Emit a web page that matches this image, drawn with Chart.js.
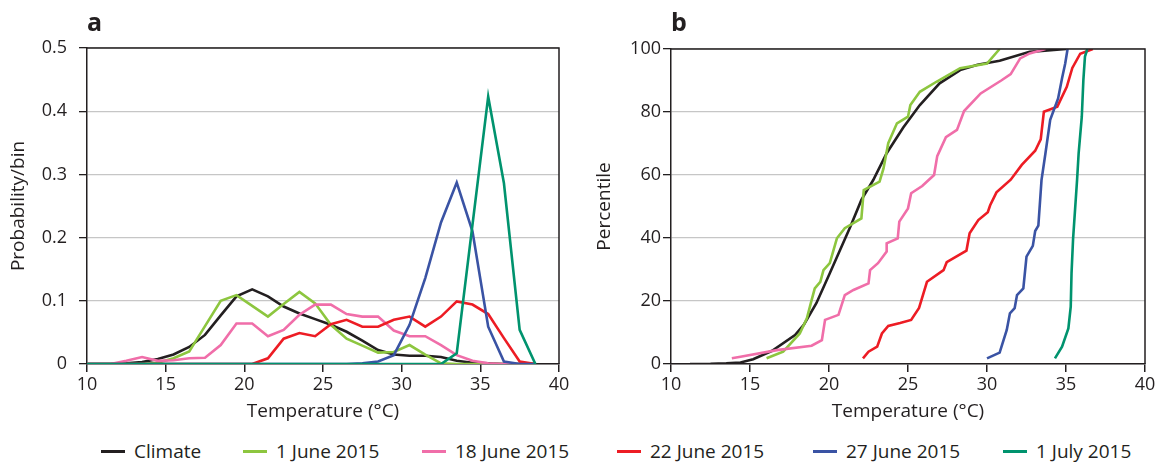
<!DOCTYPE html>
<html>
<head>
<meta charset="utf-8">
<script src="https://cdn.jsdelivr.net/npm/chart.js@4"></script>
<style>
  body { margin: 0; background: #fff; font-family: "Open Sans", sans-serif; color: #231f20; }
  #wrap { position: relative; width: 1162px; height: 466px; overflow: hidden; }
  .panel { position: absolute; top: 0; height: 430px; }
  .tag { position: absolute; top: 4px; font-weight: bold; font-size: 25px; }
  #legend { position: absolute; top: 437px; left: 0; width: 1162px; height: 28px; font-size: 19px; }
  .item { position: absolute; top: 0; white-space: nowrap; line-height: 28px; }
  .item i { display: inline-block; width: 24px; height: 3px; vertical-align: middle; margin-right: 9px; position: relative; top: -1px; }
</style>
</head>
<body>
<div id="wrap">
  <div class="panel" style="left:0;width:580px"><canvas id="chartA"></canvas></div>
  <div class="panel" style="left:584px;width:578px"><canvas id="chartB"></canvas></div>
  <div class="tag" style="left:87px">a</div>
  <div class="tag" style="left:671px">b</div>
  <div id="legend"></div>
</div>
<script>
// panel a: probability per 1 degree bin
var binCentres = [10, 10.5, 11.5, 12.5, 13.5, 14.5, 15.5, 16.5, 17.5, 18.5, 19.5, 20.5, 21.5, 22.5, 23.5,
                  24.5, 25.5, 26.5, 27.5, 28.5, 29.5, 30.5, 31.5, 32.5, 33.5, 34.5, 35.5, 36.5, 37.5, 38.5];
var probClimate = [0, 0, 0, 0.001, 0.003, 0.008, 0.015, 0.027, 0.046, 0.077, 0.107, 0.118, 0.107, 0.091, 0.080,
                   0.071, 0.062, 0.051, 0.037, 0.022, 0.015, 0.013, 0.013, 0.011, 0.005, 0.002, 0.001, 0, 0, 0];
var prob1Jun = [0, 0, 0, 0, 0, 0.002, 0.009, 0.020, 0.060, 0.100, 0.109, 0.092, 0.075, 0.095, 0.114,
                0.096, 0.062, 0.040, 0.029, 0.018, 0.019, 0.030, 0.015, 0.001, 0, 0, 0, 0, 0, 0];
var prob18Jun = [0, 0, 0, 0.005, 0.011, 0.005, 0.006, 0.009, 0.010, 0.030, 0.064, 0.064, 0.044, 0.054, 0.078,
                 0.094, 0.094, 0.079, 0.075, 0.075, 0.053, 0.044, 0.044, 0.030, 0.014, 0.005, 0.001, 0, 0, 0];
var prob22Jun = [0, 0, 0, 0, 0, 0, 0, 0, 0, 0, 0, 0, 0.009, 0.040, 0.049,
                 0.044, 0.063, 0.070, 0.059, 0.059, 0.070, 0.075, 0.059, 0.075, 0.099, 0.094, 0.079, 0.041, 0.004, 0];
var prob27Jun = [0, 0, 0, 0, 0, 0, 0, 0, 0, 0, 0, 0, 0, 0, 0,
                 0, 0, 0, 0.001, 0.004, 0.014, 0.062, 0.136, 0.224, 0.287, 0.210, 0.059, 0.004, 0, 0];
var prob1Jul = [0, 0, 0, 0, 0, 0, 0, 0, 0, 0, 0, 0, 0, 0, 0,
                0, 0, 0, 0, 0, 0, 0, 0, 0, 0.017, 0.220, 0.423, 0.286, 0.054, 0];

// panel b: cumulative percentiles
var climateT = [11.2, 12.5, 13.5, 14.4, 15.2, 16.4, 17.85, 18.4, 19.2, 20.05, 20.7, 21.35, 22.05, 22.8, 23.65,
                24.7, 25.75, 27.0, 28.3, 29.4, 30.8, 32.7, 35.0];
var climateP = [0, 0.05, 0.2, 0.5, 1.5, 4.2, 9.2, 12.4, 19.3, 28.8, 36.2, 43.6, 52.1, 58.4, 66.9,
                75.1, 82.2, 89.1, 93.3, 95.0, 96.3, 99.1, 100];
var jun1T = [16.05, 17.1, 18.15, 18.6, 18.9, 19.1, 19.45, 19.65, 20.05, 20.5, 21.0, 22.05, 22.2, 23.2, 23.45,
             23.75, 24.3, 25.0, 25.15, 25.75, 26.8, 28.3, 30.0, 30.8];
var jun1P = [1.8, 3.9, 9.7, 14.5, 20.3, 24.0, 26.1, 29.8, 32.0, 39.9, 43.1, 46.2, 55.2, 57.9, 62.1,
             70.1, 76.4, 78.5, 82.2, 86.4, 89.6, 93.9, 95.4, 100];
var jun18T = [13.85, 14.4, 16.7, 18.9, 19.55, 19.75, 20.6, 21.0, 21.55, 22.5, 22.6, 23.1, 23.65, 23.65, 24.35,
              24.45, 25.0, 25.2, 25.9, 26.65, 26.85, 27.4, 28.1, 28.55, 29.6, 30.9, 31.5, 32.1, 32.7, 33.7];
var jun18P = [1.8, 2.3, 4.4, 5.8, 7.6, 14.0, 15.6, 21.9, 23.5, 25.6, 29.8, 32.0, 35.7, 38.3, 39.9,
              45.2, 49.4, 54.2, 56.5, 60.0, 66.0, 72.0, 74.3, 80.3, 85.9, 90.0, 92.0, 97.0, 98.6, 100];
var jun22T = [22.15, 22.5, 23.05, 23.35, 23.75, 24.5, 25.2, 25.7, 26.2, 27.25, 27.45, 28.7, 28.9, 29.45, 30.05,
              30.2, 30.6, 31.5, 32.2, 33.05, 33.4, 33.6, 34.45, 35.05, 35.4, 35.9, 36.7];
var jun22P = [1.8, 3.9, 5.5, 9.7, 12.1, 13.0, 14.0, 17.8, 26.1, 29.8, 32.3, 36.0, 41.5, 45.7, 48.2,
              50.4, 54.5, 58.5, 63.2, 67.7, 71.3, 80.1, 81.7, 88.0, 94.0, 98.5, 100];
var jun27T = [30.0, 30.8, 31.25, 31.45, 31.75, 31.9, 32.3, 32.5, 32.9, 33.05, 33.25, 33.45, 33.7, 34.0, 34.5,
              34.75, 34.95, 35.1];
var jun27P = [1.8, 3.6, 10.8, 16.1, 17.7, 21.9, 24.0, 34.1, 37.5, 42.2, 43.9, 58.4, 66.9, 77.5, 84.3,
              90.7, 95.4, 100];
var jul1T = [34.3, 34.75, 35.15, 35.3, 35.35, 35.45, 35.7, 35.8, 36.0, 36.1, 36.2, 36.35];
var jul1P = [1.8, 5.5, 11.3, 18.2, 28.8, 39.9, 58.4, 66.9, 78.5, 90.2, 97.6, 100];

var seriesNames = ["Climate", "1 June 2015", "18 June 2015", "22 June 2015", "27 June 2015", "1 July 2015"];
var seriesColors = ["#231f20", "#8dc63f", "#f06ea9", "#ed1c24", "#3a53a4", "#00936e"];

var ink = "#231f20";
var FONT = "'Open Sans', sans-serif";

function pairs(xs, ys) {
  return xs.map(function(x, i) { return { x: x, y: ys[i] }; });
}

function makeDatasets(list) {
  return list.map(function(pts, i) {
    return {
      label: seriesNames[i],
      data: pts,
      borderColor: seriesColors[i],
      borderWidth: 2.6,
      pointRadius: 0,
      tension: 0,
      fill: false,
    };
  }).reverse(); // climate on top
}

var frame = {
  id: "frame",
  afterDraw: function(chart) {
    var a = chart.chartArea, ctx = chart.ctx;
    ctx.save();
    ctx.strokeStyle = ink;
    ctx.lineWidth = 1.5;
    ctx.beginPath();
    ctx.moveTo(a.left, a.top);
    ctx.lineTo(a.right, a.top);
    ctx.lineTo(a.right, a.bottom);
    ctx.stroke();
    ctx.restore();
  }
};

function makePanel(id, datasets, y, pad) {
  new Chart(document.getElementById(id), {
    type: "line",
    data: { datasets: datasets },
    plugins: [frame],
    options: {
      responsive: true,
      maintainAspectRatio: false,
      animation: false,
      layout: { padding: pad },
      plugins: { legend: { display: false }, tooltip: { enabled: false } },
      scales: {
        x: {
          type: "linear", min: 10, max: 40,
          ticks: { stepSize: 5, color: ink, padding: 2, font: { family: FONT, size: 18 } },
          grid: { drawOnChartArea: false, tickLength: 8, tickColor: ink, lineWidth: 1.5 },
          border: { color: ink, width: 1.5 },
          title: { display: true, text: "Temperature (°C)", color: ink, padding: { top: 0, bottom: 1 },
                   font: { family: FONT, size: 19 } },
          afterFit: function(s) { s.height = 60; }
        },
        y: {
          min: y.min, max: y.max,
          ticks: { stepSize: y.step, color: ink, padding: y.tickPad, font: { family: FONT, size: 18 } },
          grid: { color: "#c6c6c6", lineWidth: 1.3, tickLength: 8, tickColor: ink },
          border: { color: ink, width: 1.5 },
          title: { display: true, text: y.title, color: ink, padding: { top: y.titlePad, bottom: 0 },
                   font: { family: FONT, size: 19 } },
          afterFit: function(s) { s.width = 87; }
        }
      }
    }
  });
}

function buildLegend() {
  var lefts = [101, 243, 422, 617, 813, 1003];
  var box = document.getElementById("legend");
  seriesNames.forEach(function(n, i) {
    var d = document.createElement("div");
    d.className = "item";
    d.style.left = lefts[i] + "px";
    d.innerHTML = '<i style="background:' + seriesColors[i] + '"></i>' + n;
    box.appendChild(d);
  });
}

document.addEventListener("DOMContentLoaded", function() {
  var probs = [probClimate, prob1Jun, prob18Jun, prob22Jun, prob27Jun, prob1Jul];
  makePanel("chartA", makeDatasets(probs.map(function(p) { return pairs(binCentres, p); })),
    { min: 0, max: 0.5, step: 0.1, title: "Probability/bin", tickPad: 12, titlePad: 7 },
    { top: 48, right: 21, bottom: 6, left: 0 });

  var cdfs = [pairs(climateT, climateP), pairs(jun1T, jun1P), pairs(jun18T, jun18P),
              pairs(jun22T, jun22P), pairs(jun27T, jun27P), pairs(jul1T, jul1P)];
  makePanel("chartB", makeDatasets(cdfs),
    { min: 0, max: 100, step: 20, title: "Percentile", tickPad: 2, titlePad: 9 },
    { top: 49, right: 17, bottom: 6, left: 0 });

  buildLegend();
});
</script>
</body>
</html>
